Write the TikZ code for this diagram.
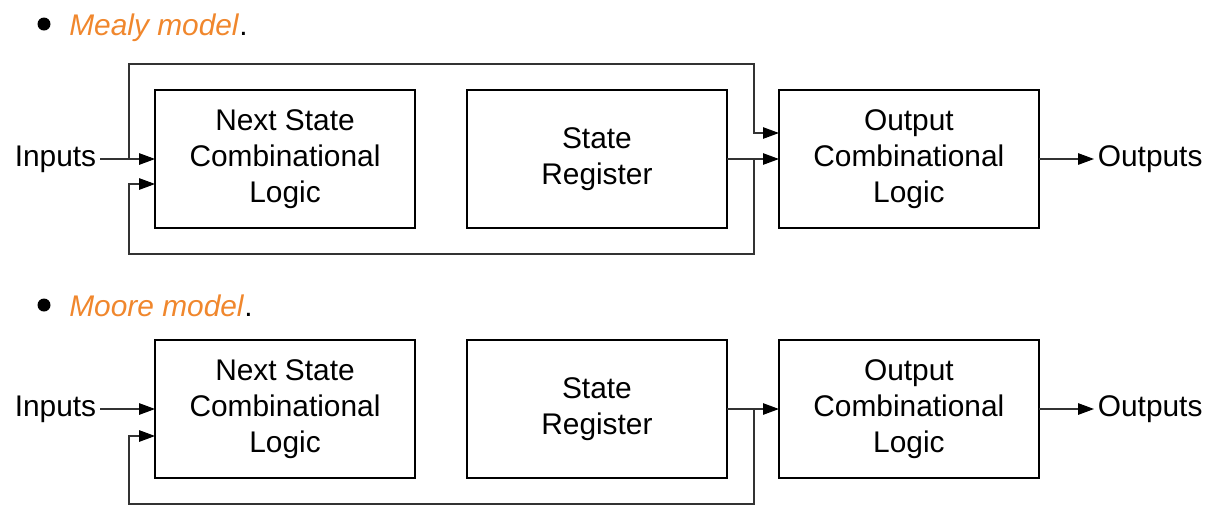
\documentclass[tikz,border=0pt]{standalone}
\usepackage{fontspec}
\setmainfont{Liberation Sans}
\usetikzlibrary{arrows.meta,positioning}
\definecolor{modelorange}{RGB}{240,135,45}
\begin{document}
\begin{tikzpicture}[x=0.02cm,y=-0.02cm,
		font=\fontsize{17}{20.5}\selectfont,
		Block/.style={draw, line width=1.2pt, minimum width=5.2cm, minimum height=2.76cm, align=center, inner sep=0pt, outer sep=0pt},
		Wire/.style={draw=black!80, line width=0.6pt},
		Feed/.style={Wire, -{Triangle[length=9pt,width=6.5pt,color=black]}},
		Label/.style={inner sep=2pt}]
		\useasboundingbox (0,0) rectangle (1228,522);
		% Mealy model
		\fill (44,24) circle (6.5);
		\node[anchor=base west, inner sep=0pt] (mealy) at (69,35) {{\itshape\color{modelorange}Mealy model\/}.};
		\node[Block] (NS1) at (285,159) {Next State\\Combinational\\Logic};
		\node[Block, right=1.04cm of NS1] (SR1) {State\\Register};
		\node[Block, right=1.04cm of SR1] (OL1) {Output\\Combinational\\Logic};
		\node[Label, anchor=east] (in1) at (100,159) {Inputs};
		\node[Label, anchor=west] (out1) at (1094,159) {Outputs};
		\coordinate (split1) at (129,158);
		\coordinate (top1) at (754,64);
		\coordinate (skip1) at (754,133);
		\coordinate (branch1) at (754,159);
		\coordinate (low1) at (754,254);
		\coordinate (back1) at (129,184);
		\draw[Feed] (in1.east) -- (in1.east -| NS1.west);
		\draw[Feed] (split1) |- (top1) -- (skip1) -- (skip1 -| OL1.west);
		\draw[Feed] (SR1.east) -- (OL1.west);
		\draw[Feed] (branch1) -- (low1) -| (back1) -- (back1 -| NS1.west);
		\draw[Feed] (OL1.east |- out1) -- (out1.west);
		% Moore model
		\fill (44,305) circle (6.5);
		\node[anchor=base west, inner sep=0pt] (moore) at (69,316) {{\itshape\color{modelorange}Moore model\/}.};
		\node[Block] (NS2) at (285,409) {Next State\\Combinational\\Logic};
		\node[Block, right=1.04cm of NS2] (SR2) {State\\Register};
		\node[Block, right=1.04cm of SR2] (OL2) {Output\\Combinational\\Logic};
		\node[Label, anchor=east] (in2) at (100,409) {Inputs};
		\node[Label, anchor=west] (out2) at (1094,409) {Outputs};
		\coordinate (branch2) at (754,409);
		\coordinate (low2) at (754,504);
		\coordinate (back2) at (129,436);
		\draw[Feed] (in2.east) -- (in2.east -| NS2.west);
		\draw[Feed] (SR2.east) -- (OL2.west);
		\draw[Feed] (branch2) -- (low2) -| (back2) -- (back2 -| NS2.west);
		\draw[Feed] (OL2.east |- out2) -- (out2.west);
	\end{tikzpicture}
\end{document}
